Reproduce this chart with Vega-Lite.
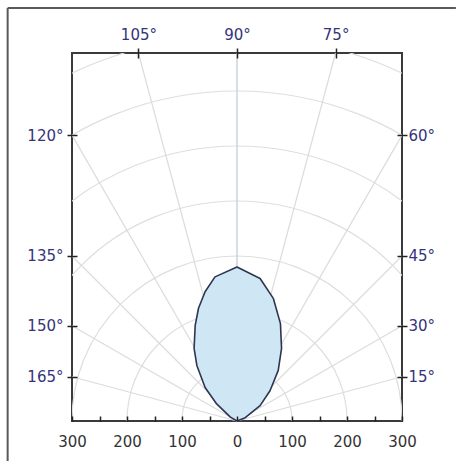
{
  "$schema": "https://vega.github.io/schema/vega-lite/v6.json",
  "width": 330,
  "height": 368,
  "autosize": "none",
  "padding": {"left": 72, "top": 53, "right": 54, "bottom": 40},
  "background": "white",
  "config": {"view": {"stroke": "#3a3a3a", "strokeWidth": 2}, "font": "DejaVu Sans"},
  "datasets": {
    "circles": [
      {"r": 100, "cx": 0, "cy": 0}, {"r": 200, "cx": 0, "cy": 0}, {"r": 300, "cx": 0, "cy": 0},
      {"r": 400, "cx": 0, "cy": 0}, {"r": 500, "cx": 0, "cy": 0}, {"r": 600, "cx": 0, "cy": 0}, {"r": 700, "cx": 0, "cy": 0}
    ],
    "rays": [
      {"angle": 15, "x0": 0, "y0": 0, "x": 300, "y": 80.38, "kind": "oblique"},
      {"angle": 30, "x0": 0, "y0": 0, "x": 300, "y": 173.21, "kind": "oblique"},
      {"angle": 45, "x0": 0, "y0": 0, "x": 300, "y": 300, "kind": "oblique"},
      {"angle": 60, "x0": 0, "y0": 0, "x": 300, "y": 519.62, "kind": "oblique"},
      {"angle": 75, "x0": 0, "y0": 0, "x": 179.26, "y": 669, "kind": "oblique"},
      {"angle": 90, "x0": 0, "y0": 0, "x": 0, "y": 669, "kind": "vertical"},
      {"angle": 105, "x0": 0, "y0": 0, "x": -179.26, "y": 669, "kind": "oblique"},
      {"angle": 120, "x0": 0, "y0": 0, "x": -300, "y": 519.62, "kind": "oblique"},
      {"angle": 135, "x0": 0, "y0": 0, "x": -300, "y": 300, "kind": "oblique"},
      {"angle": 150, "x0": 0, "y0": 0, "x": -300, "y": 173.21, "kind": "oblique"},
      {"angle": 165, "x0": 0, "y0": 0, "x": -300, "y": 80.38, "kind": "oblique"}
    ],
    "shape": [
      {"i": 0, "x": 0, "y": 0},
      {"i": 1, "x": -12, "y": 7},
      {"i": 2, "x": -37, "y": 31},
      {"i": 3, "x": -58, "y": 61},
      {"i": 4, "x": -73, "y": 101},
      {"i": 5, "x": -78, "y": 132},
      {"i": 6, "x": -76, "y": 174},
      {"i": 7, "x": -70, "y": 205},
      {"i": 8, "x": -58, "y": 235},
      {"i": 9, "x": -40, "y": 262},
      {"i": 10, "x": 0, "y": 280},
      {"i": 11, "x": 42, "y": 259},
      {"i": 12, "x": 66, "y": 223},
      {"i": 13, "x": 79, "y": 177},
      {"i": 14, "x": 81, "y": 132},
      {"i": 15, "x": 75, "y": 92},
      {"i": 16, "x": 60, "y": 55},
      {"i": 17, "x": 42, "y": 28},
      {"i": 18, "x": 15, "y": 6},
      {"i": 19, "x": 0, "y": 0}
    ],
    "frame": [
      {"x": -417, "y": 751, "x2": 398, "y2": 751},
      {"x": -417, "y": 751, "x2": -417, "y2": -73}
    ]
  },
  "layer": [
    {
      "data": {"name": "circles"},
      "mark": {"type": "arc", "theta": 0, "theta2": 6.2832, "filled": false, "stroke": "#dedede", "strokeWidth": 1.2, "clip": true},
      "encoding": {
        "x": {"field": "cx", "type": "quantitative", "scale": {"domain": [-300, 300], "nice": false, "zero": false}, "axis": null},
        "y": {"field": "cy", "type": "quantitative", "scale": {"domain": [0, 669], "nice": false}, "axis": null},
        "radius": {"field": "r", "type": "quantitative", "stack": null, "scale": {"type": "linear", "domain": [0, 600], "range": [0, 330]}}
      }
    },
    {
      "data": {"name": "rays"},
      "mark": {"type": "rule", "strokeWidth": 1.2},
      "encoding": {
        "x": {"field": "x0", "type": "quantitative", "axis": {
          "orient": "bottom", "title": null, "values": [-300, -250, -200, -150, -100, -50, 0, 50, 100, 150, 200, 250, 300],
          "labelExpr": "datum.value % 100 == 0 ? abs(datum.value) : ''",
          "tickSize": -5, "tickColor": "#222", "tickWidth": 1.5, "domain": false, "grid": false,
          "labelPadding": 18, "labelFontSize": 15, "labelColor": "#333", "labelFlush": false, "labelOverlap": false, "labelBound": false, "zindex": 1}},
        "y": {"field": "y0", "type": "quantitative", "axis": {
          "orient": "left", "title": null, "values": [80.38, 173.21, 300, 519.62],
          "labelExpr": "datum.value < 100 ? '165°' : datum.value < 200 ? '150°' : datum.value < 400 ? '135°' : '120°'",
          "tickSize": 10, "offset": -5, "tickColor": "#222", "tickWidth": 1.5, "domain": false, "grid": false,
          "labelPadding": 4, "labelFontSize": 15, "labelColor": "#34347a", "labelOverlap": false, "labelFlush": false, "zindex": 1}},
        "x2": {"field": "x"},
        "y2": {"field": "y"},
        "color": {"field": "kind", "type": "nominal", "scale": {"domain": ["oblique", "vertical"], "range": ["#dcdcdc", "#c2c9d2"]}, "legend": null}
      }
    },
    {
      "data": {"name": "shape"},
      "mark": {"type": "line", "fill": "#cfe7f4", "stroke": "#2d3550", "strokeWidth": 1.6, "strokeJoin": "round"},
      "encoding": {
        "x": {"field": "x", "type": "quantitative", "axis": {
          "orient": "top", "title": null, "values": [-179.26, 0, 179.26],
          "labelExpr": "datum.value < -1 ? '105°' : datum.value > 1 ? '75°' : '90°'",
          "tickSize": 10, "offset": -5, "tickColor": "#222", "tickWidth": 1.5, "domain": false, "grid": false,
          "labelPadding": 6, "labelFontSize": 15, "labelColor": "#34347a", "labelFlush": false, "labelOverlap": false, "zindex": 1}},
        "y": {"field": "y", "type": "quantitative", "axis": {
          "orient": "right", "title": null, "values": [80.38, 173.21, 300, 519.62],
          "labelExpr": "datum.value < 100 ? '15°' : datum.value < 200 ? '30°' : datum.value < 400 ? '45°' : '60°'",
          "tickSize": 10, "offset": -5, "tickColor": "#222", "tickWidth": 1.5, "domain": false, "grid": false,
          "labelPadding": 1, "labelFontSize": 15, "labelColor": "#34347a", "labelOverlap": false, "labelFlush": false, "zindex": 1}},
        "order": {"field": "i", "type": "quantitative"}
      }
    },
    {
      "data": {"name": "frame"},
      "mark": {"type": "rule", "stroke": "#5a5a5a", "strokeWidth": 2, "clip": false},
      "encoding": {
        "x": {"field": "x", "type": "quantitative", "axis": null},
        "y": {"field": "y", "type": "quantitative", "axis": null},
        "x2": {"field": "x2"},
        "y2": {"field": "y2"}
      }
    }
  ],
  "resolve": {"axis": {"x": "independent", "y": "independent"}}
}
